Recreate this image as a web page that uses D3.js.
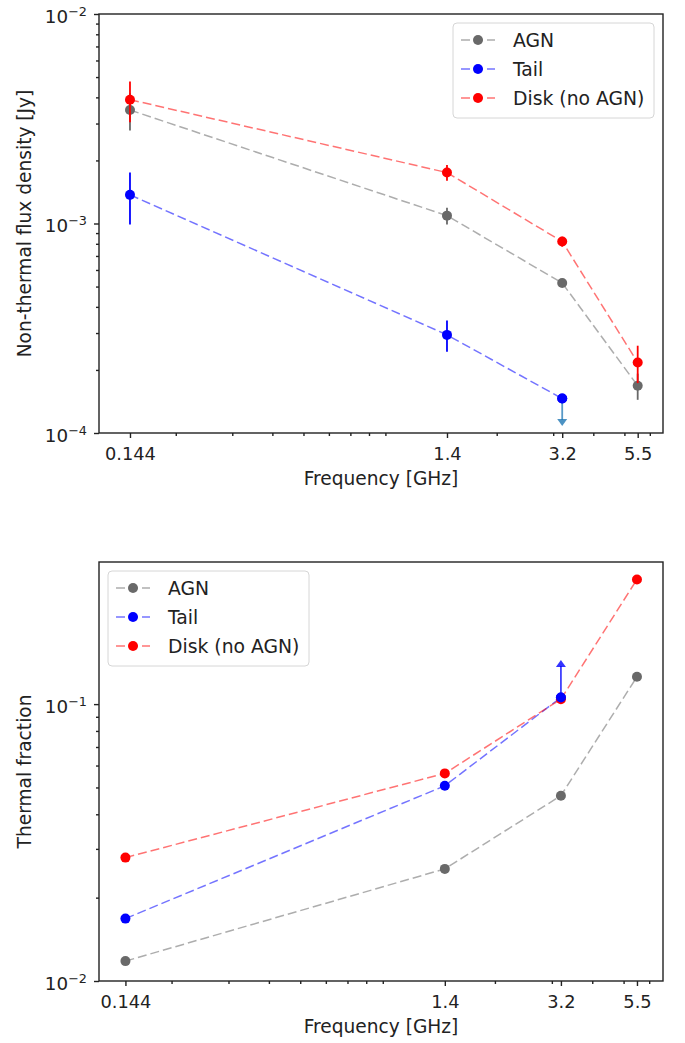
<!DOCTYPE html>
<html>
<head>
<meta charset="utf-8">
<script src="https://cdnjs.cloudflare.com/ajax/libs/d3/7.8.5/d3.min.js"></script>
<style>
    body { margin: 0; background: #fff; }
    svg text { font-family: "DejaVu Sans", sans-serif; fill: #222; }
</style>
</head>
<body>
<div id="chart-area"></div>
<script>
// frequencies (GHz) and their tick labels
var freqs = [0.144, 1.4, 3.2, 5.5];
var freqLabels = ["0.144", "1.4", "3.2", "5.5"];
var seriesNames = ["AGN", "Tail", "Disk (no AGN)"];

// non-thermal flux density [Jy]
var fluxAGN = [3.48e-3, 1.09e-3, 5.2e-4, 1.68e-4];
var fluxAGNErr = [0.7e-3, 0.1e-3, 0.2e-4, 0.24e-4];
var fluxTail = [1.37e-3, 2.94e-4, 1.46e-4];
var fluxTailErr = [0.38e-3, 0.5e-4, 0];
var fluxDisk = [3.9e-3, 1.75e-3, 8.2e-4, 2.17e-4];
var fluxDiskErr = [0.86e-3, 0.15e-3, 0.45e-4, 0.44e-4];
// tail at 3.2 GHz is an upper limit
var fluxTailLimit = [3.2, 1.46e-4, 1.08e-4];

// thermal fraction
var fracAGN = [0.0118, 0.0254, 0.0467, 0.1255];
var fracTail = [0.0168, 0.0507, 0.1057];
var fracDisk = [0.0279, 0.0562, 0.1042, 0.282];
// tail at 3.2 GHz is a lower limit
var fracTailLimit = [3.2, 0.1057, 0.1442];

var colors = { agn: "#696969", tail: "#0000ff", disk: "#ff0000" };

var svg = d3.select("#chart-area")
    .append("svg")
    .attr("width", 685)
    .attr("height", 1043);

function points(vals, errs) {
    return vals.map(function (v, i) {
        return { f: freqs[i], v: v, e: errs ? errs[i] : 0 };
    });
}

function decadeLabel(sel) {
    sel.each(function (d) {
        var t = d3.select(this).text("");
        var p = Math.round(Math.log10(d));
        t.append("tspan").text("10");
        t.append("tspan")
            .attr("dy", "-0.55em")
            .attr("font-size", "12.8px")
            .text("\u2212" + Math.abs(p));
    });
}

function drawPanel(opt) {
    var g = svg.append("g")
        .attr("transform", "translate(" + opt.left + "," + opt.top + ")");
    var width = opt.width, height = opt.height;

    var x = d3.scaleLog().domain(opt.xDomain).range([0, width]);
    var y = d3.scaleLog().domain(opt.yDomain).range([height, 0]);

    // minor ticks 2..9 x 10^n, only inside the axes
    var xMinor = [];
    [-1, 0].forEach(function (p) {
        for (var k = 2; k <= 9; k++) xMinor.push(k * Math.pow(10, p));
    });
    xMinor = xMinor.filter(function (v) { return v >= opt.xDomain[0] && v <= opt.xDomain[1]; });
    var yMinor = [];
    opt.yDecades.slice(0, -1).forEach(function (dv) {
        for (var k = 2; k <= 9; k++) {
            if (k * dv <= opt.yDomain[1]) yMinor.push(k * dv);
        }
    });

    g.append("g")
        .attr("class", "x-minor")
        .attr("transform", "translate(0," + height + ")")
        .call(d3.axisBottom(x).tickValues(xMinor).tickFormat("").tickSize(3));
    g.append("g")
        .attr("class", "x-axis")
        .attr("transform", "translate(0," + height + ")")
        .call(d3.axisBottom(x).tickValues(freqs)
            .tickFormat(function (d, i) { return freqLabels[i]; })
            .tickSize(5).tickPadding(9))
        .selectAll("text")
            .attr("font-size", "17.8px");

    g.append("g")
        .attr("class", "y-minor")
        .call(d3.axisLeft(y).tickValues(yMinor).tickFormat("").tickSize(3));
    g.append("g")
        .attr("class", "y-axis")
        .call(d3.axisLeft(y).tickValues(opt.yDecades).tickSize(5).tickPadding(7))
        .selectAll("text")
            .attr("font-size", "18.3px")
            .attr("dy", "0.45em")
            .call(decadeLabel);

    g.selectAll(".domain").remove();
    g.selectAll(".tick line").attr("stroke", "#222").attr("stroke-width", 1.4);

    g.append("rect")
        .attr("width", width)
        .attr("height", height)
        .attr("fill", "none")
        .attr("stroke", "#222")
        .attr("stroke-width", 1.4);

    // axis labels
    g.append("text")
        .attr("x", width / 2)
        .attr("y", height + 52)
        .attr("font-size", "18.6px")
        .attr("text-anchor", "middle")
        .text("Frequency [GHz]");
    g.append("text")
        .attr("x", -(height / 2))
        .attr("y", 31 - opt.left)
        .attr("font-size", "18.6px")
        .attr("text-anchor", "middle")
        .attr("transform", "rotate(-90)")
        .text(opt.yLabel);

    var line = d3.line()
        .x(function (d) { return x(d.f); })
        .y(function (d) { return y(d.v); });

    opt.series.forEach(function (s) {
        g.append("path")
            .datum(s.data)
            .attr("d", line)
            .attr("fill", "none")
            .attr("stroke", s.color)
            .attr("stroke-opacity", 0.55)
            .attr("stroke-width", 1.5)
            .attr("stroke-dasharray", "9,4");

        g.selectAll(null)
            .data(s.data.filter(function (d) { return d.e > 0; }))
            .enter()
            .append("line")
            .attr("x1", function (d) { return x(d.f); })
            .attr("x2", function (d) { return x(d.f); })
            .attr("y1", function (d) { return y(d.v + d.e); })
            .attr("y2", function (d) { return y(d.v - d.e); })
            .attr("stroke", s.color)
            .attr("stroke-width", 1.8);

        g.selectAll(null)
            .data(s.data)
            .enter()
            .append("circle")
            .attr("cx", function (d) { return x(d.f); })
            .attr("cy", function (d) { return y(d.v); })
            .attr("r", 5)
            .attr("fill", s.color);
    });

    // limit arrow, drawn last
    var lim = opt.limit;
    var lx = x(lim.pt[0]), ly0 = y(lim.pt[1]), ly1 = y(lim.pt[2]);
    var dir = ly1 > ly0 ? 1 : -1;
    g.append("line")
        .attr("x1", lx).attr("x2", lx)
        .attr("y1", ly0).attr("y2", ly1 - dir * 6)
        .attr("stroke", lim.color)
        .attr("stroke-opacity", 0.75)
        .attr("stroke-width", 1.8);
    g.append("path")
        .attr("d", "M" + (lx - 5) + "," + (ly1 - dir * 7) + "L" + (lx + 5) + "," + (ly1 - dir * 7) +
            "L" + lx + "," + ly1 + "Z")
        .attr("fill", lim.color)
        .attr("fill-opacity", 0.8);
    g.append("circle")
        .attr("cx", lx)
        .attr("cy", ly0)
        .attr("r", 5)
        .attr("fill", colors.tail);

    // legend
    var lg = g.append("g")
        .attr("transform", "translate(" + opt.legend[0] + "," + opt.legend[1] + ")");
    lg.append("rect")
        .attr("width", 201)
        .attr("height", 95)
        .attr("rx", 4)
        .attr("fill", "#fff")
        .attr("fill-opacity", 0.8)
        .attr("stroke", "#d6d6d6");
    opt.series.forEach(function (s, i) {
        var yy = 17 + i * 29;
        lg.append("line")
            .attr("x1", 8).attr("x2", 42)
            .attr("y1", yy).attr("y2", yy)
            .attr("stroke", s.color)
            .attr("stroke-opacity", 0.55)
            .attr("stroke-width", 1.5)
            .attr("stroke-dasharray", "9,4");
        lg.append("circle")
            .attr("cx", 25)
            .attr("cy", yy)
            .attr("r", 5)
            .attr("fill", s.color);
        lg.append("text")
            .attr("x", 60)
            .attr("y", yy)
            .attr("dy", "0.36em")
            .attr("font-size", "18.8px")
            .text(s.name);
    });
}

drawPanel({
    left: 99, top: 14, width: 564, height: 419,
    xDomain: [0.1153, 6.595],
    yDomain: [1e-4, 1e-2],
    yDecades: [1e-4, 1e-3, 1e-2],
    yLabel: "Non-thermal flux density [Jy]",
    series: [
        { name: seriesNames[0], color: colors.agn, data: points(fluxAGN, fluxAGNErr) },
        { name: seriesNames[1], color: colors.tail, data: points(fluxTail, fluxTailErr) },
        { name: seriesNames[2], color: colors.disk, data: points(fluxDisk, fluxDiskErr) }
    ],
    limit: { pt: fluxTailLimit, color: "#1f77b4" },
    legend: [354, 9]
});

drawPanel({
    left: 99, top: 562, width: 564, height: 419,
    xDomain: [0.1193, 6.62],
    yDomain: [0.01, 0.326],
    yDecades: [0.01, 0.1],
    yLabel: "Thermal fraction",
    series: [
        { name: seriesNames[0], color: colors.agn, data: points(fracAGN) },
        { name: seriesNames[1], color: colors.tail, data: points(fracTail) },
        { name: seriesNames[2], color: colors.disk, data: points(fracDisk) }
    ],
    limit: { pt: fracTailLimit, color: "#0000ff" },
    legend: [9, 9]
});
</script>
</body>
</html>
